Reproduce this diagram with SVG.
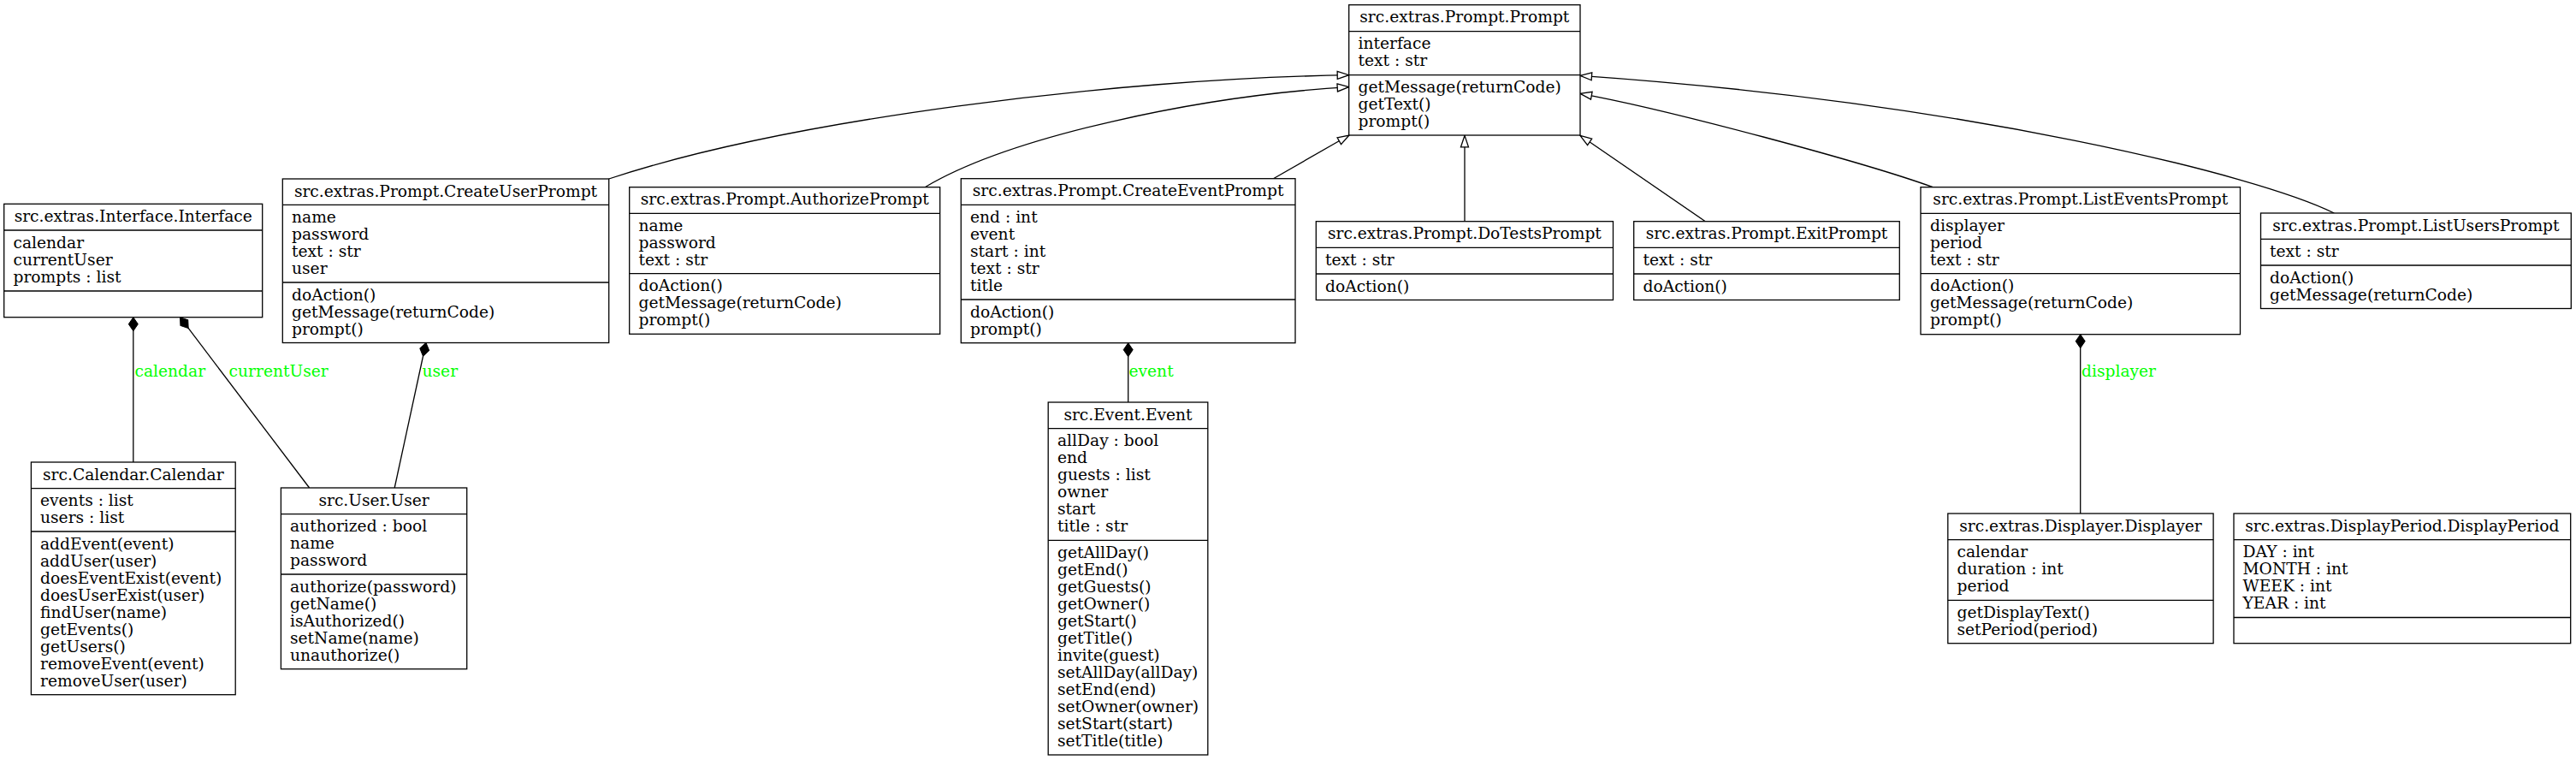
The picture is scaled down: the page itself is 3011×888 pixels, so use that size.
<svg xmlns="http://www.w3.org/2000/svg" width="3011" height="888" viewBox="0 0 3011 888">
<style>
text{font-family:"DejaVu Serif","Liberation Serif",serif;font-size:18.67px;fill:#000}
.h{text-anchor:middle}
.lbl{fill:#00ff00}
rect{fill:#fff;stroke:#000;stroke-width:1.3}
line.d{stroke:#000;stroke-width:1.3}
.e{fill:none;stroke:#000;stroke-width:1.3}
</style>
<defs>
<marker id="hollow" viewBox="0 0 14 10" refX="14" refY="5" markerWidth="14" markerHeight="10" markerUnits="userSpaceOnUse" orient="auto" overflow="visible"><path d="M0.5,0.5 L14,5 L0.5,9.5 z" fill="#fff" stroke="#000" stroke-width="1.3"/></marker>
<marker id="diamond" viewBox="0 0 16 12" refX="0" refY="6" markerWidth="16" markerHeight="12" markerUnits="userSpaceOnUse" orient="auto" overflow="visible"><path d="M0,6 L8,0.5 L16,6 L8,11.5 z" fill="#000" stroke="#000" stroke-width="1"/></marker>
</defs>
<rect x="0" y="0" width="3011" height="888" style="stroke:none;fill:#fff"/>

<g id="connectors">
<path class="e" d="M711.7,209 C920,140 1300,92 1576.7,87.7" marker-end="url(#hollow)"/>
<path class="e" d="M1081.6,218.5 C1180,160 1400,112 1576.7,101.7" marker-end="url(#hollow)"/>
<path class="e" d="M1488.4,208.7 L1577,158" marker-end="url(#hollow)"/>
<path class="e" d="M1712,258.7 L1712,158.3" marker-end="url(#hollow)"/>
<path class="e" d="M1993.3,258.7 L1847,158.3" marker-end="url(#hollow)"/>
<path class="e" d="M2259.3,218.7 C2180,190 1950,128 1847,109.3" marker-end="url(#hollow)"/>
<path class="e" d="M2728.3,249 C2640,205 2300,120 1847,88.3" marker-end="url(#hollow)"/>
<path class="e" d="M155.8,370.7 L155.8,540" marker-start="url(#diamond)"/>
<path class="e" d="M210.5,370.7 L361.6,570" marker-start="url(#diamond)"/>
<path class="e" d="M497.9,400.5 L461.2,570" marker-start="url(#diamond)"/>
<path class="e" d="M1318.7,400.7 L1318.7,470" marker-start="url(#diamond)"/>
<path class="e" d="M2431.7,390.7 L2431.7,600" marker-start="url(#diamond)"/>
<text class="lbl" x="157.5" y="439.5">calendar</text>
<text class="lbl" x="267.6" y="439.5">currentUser</text>
<text class="lbl" x="493.5" y="439.5">user</text>
<text class="lbl" x="1319.5" y="439.5">event</text>
<text class="lbl" x="2433" y="439.5">displayer</text>
</g>

<g id="Prompt">
<rect x="1576.7" y="5.7" width="270.3" height="152.3"/>
<line class="d" x1="1576.7" y1="36.7" x2="1847" y2="36.7"/>
<line class="d" x1="1576.7" y1="87.7" x2="1847" y2="87.7"/>
<text class="h" x="1711.85" y="26.3">src.extras.Prompt.Prompt</text>
<text x="1587.5" y="57.4">interface</text>
<text x="1587.5" y="77.4">text : str</text>
<text x="1587.5" y="108.4">getMessage(returnCode)</text>
<text x="1587.5" y="128.4">getText()</text>
<text x="1587.5" y="148.4">prompt()</text>
</g>

<g id="Interface">
<rect x="4.7" y="238.3" width="302" height="132.4"/>
<line class="d" x1="4.7" y1="269" x2="306.7" y2="269"/>
<line class="d" x1="4.7" y1="340" x2="306.7" y2="340"/>
<text class="h" x="155.7" y="258.9">src.extras.Interface.Interface</text>
<text x="15.5" y="289.7">calendar</text>
<text x="15.5" y="309.7">currentUser</text>
<text x="15.5" y="329.7">prompts : list</text>
</g>

<g id="CreateUserPrompt">
<rect x="330.3" y="209" width="381.4" height="191.5"/>
<line class="d" x1="330.3" y1="239.3" x2="711.7" y2="239.3"/>
<line class="d" x1="330.3" y1="330" x2="711.7" y2="330"/>
<text class="h" x="521" y="229.6">src.extras.Prompt.CreateUserPrompt</text>
<text x="341" y="260">name</text>
<text x="341" y="280">password</text>
<text x="341" y="300">text : str</text>
<text x="341" y="320">user</text>
<text x="341" y="350.7">doAction()</text>
<text x="341" y="370.7">getMessage(returnCode)</text>
<text x="341" y="390.7">prompt()</text>
</g>

<g id="AuthorizePrompt">
<rect x="735.7" y="218.7" width="363" height="171.6"/>
<line class="d" x1="735.7" y1="249.3" x2="1098.7" y2="249.3"/>
<line class="d" x1="735.7" y1="319.7" x2="1098.7" y2="319.7"/>
<text class="h" x="917.2" y="239.3">src.extras.Prompt.AuthorizePrompt</text>
<text x="746.5" y="270">name</text>
<text x="746.5" y="290">password</text>
<text x="746.5" y="310">text : str</text>
<text x="746.5" y="340.4">doAction()</text>
<text x="746.5" y="360.4">getMessage(returnCode)</text>
<text x="746.5" y="380.4">prompt()</text>
</g>

<g id="CreateEventPrompt">
<rect x="1123.3" y="208.7" width="390.7" height="192"/>
<line class="d" x1="1123.3" y1="239.3" x2="1514" y2="239.3"/>
<line class="d" x1="1123.3" y1="350" x2="1514" y2="350"/>
<text class="h" x="1318.65" y="229.3">src.extras.Prompt.CreateEventPrompt</text>
<text x="1134" y="260">end : int</text>
<text x="1134" y="280">event</text>
<text x="1134" y="300">start : int</text>
<text x="1134" y="320">text : str</text>
<text x="1134" y="340">title</text>
<text x="1134" y="370.7">doAction()</text>
<text x="1134" y="390.7">prompt()</text>
</g>

<g id="DoTestsPrompt">
<rect x="1538.3" y="258.7" width="347.2" height="91.8"/>
<line class="d" x1="1538.3" y1="289.3" x2="1885.5" y2="289.3"/>
<line class="d" x1="1538.3" y1="320" x2="1885.5" y2="320"/>
<text class="h" x="1711.9" y="279.3">src.extras.Prompt.DoTestsPrompt</text>
<text x="1549" y="310">text : str</text>
<text x="1549" y="340.7">doAction()</text>
</g>

<g id="ExitPrompt">
<rect x="1909.7" y="258.7" width="310.6" height="91.8"/>
<line class="d" x1="1909.7" y1="289.3" x2="2220.3" y2="289.3"/>
<line class="d" x1="1909.7" y1="320" x2="2220.3" y2="320"/>
<text class="h" x="2065" y="279.3">src.extras.Prompt.ExitPrompt</text>
<text x="1920.5" y="310">text : str</text>
<text x="1920.5" y="340.7">doAction()</text>
</g>

<g id="ListEventsPrompt">
<rect x="2245" y="218.7" width="373.5" height="172"/>
<line class="d" x1="2245" y1="249.3" x2="2618.5" y2="249.3"/>
<line class="d" x1="2245" y1="319.7" x2="2618.5" y2="319.7"/>
<text class="h" x="2431.75" y="239.3">src.extras.Prompt.ListEventsPrompt</text>
<text x="2256" y="270">displayer</text>
<text x="2256" y="290">period</text>
<text x="2256" y="310">text : str</text>
<text x="2256" y="340.4">doAction()</text>
<text x="2256" y="360.4">getMessage(returnCode)</text>
<text x="2256" y="380.4">prompt()</text>
</g>

<g id="ListUsersPrompt">
<rect x="2642.5" y="249" width="362.8" height="111.5"/>
<line class="d" x1="2642.5" y1="279.3" x2="3005.3" y2="279.3"/>
<line class="d" x1="2642.5" y1="310" x2="3005.3" y2="310"/>
<text class="h" x="2823.9" y="269.6">src.extras.Prompt.ListUsersPrompt</text>
<text x="2653" y="300">text : str</text>
<text x="2653" y="330.7">doAction()</text>
<text x="2653" y="350.7">getMessage(returnCode)</text>
</g>

<g id="Calendar">
<rect x="36.4" y="540" width="238.8" height="271.7"/>
<line class="d" x1="36.4" y1="570.7" x2="275.2" y2="570.7"/>
<line class="d" x1="36.4" y1="621" x2="275.2" y2="621"/>
<text class="h" x="155.8" y="560.6">src.Calendar.Calendar</text>
<text x="47" y="591.4">events : list</text>
<text x="47" y="611.4">users : list</text>
<text x="47" y="641.7">addEvent(event)</text>
<text x="47" y="661.7">addUser(user)</text>
<text x="47" y="681.7">doesEventExist(event)</text>
<text x="47" y="701.7">doesUserExist(user)</text>
<text x="47" y="721.7">findUser(name)</text>
<text x="47" y="741.7">getEvents()</text>
<text x="47" y="761.7">getUsers()</text>
<text x="47" y="781.7">removeEvent(event)</text>
<text x="47" y="801.7">removeUser(user)</text>
</g>

<g id="User">
<rect x="328.4" y="570" width="217.3" height="211.7"/>
<line class="d" x1="328.4" y1="600.7" x2="545.7" y2="600.7"/>
<line class="d" x1="328.4" y1="671" x2="545.7" y2="671"/>
<text class="h" x="437.05" y="590.6">src.User.User</text>
<text x="339" y="621.4">authorized : bool</text>
<text x="339" y="641.4">name</text>
<text x="339" y="661.4">password</text>
<text x="339" y="691.7">authorize(password)</text>
<text x="339" y="711.7">getName()</text>
<text x="339" y="731.7">isAuthorized()</text>
<text x="339" y="751.7">setName(name)</text>
<text x="339" y="771.7">unauthorize()</text>
</g>

<g id="Event">
<rect x="1225.2" y="470" width="186.6" height="412"/>
<line class="d" x1="1225.2" y1="500.7" x2="1411.8" y2="500.7"/>
<line class="d" x1="1225.2" y1="631.3" x2="1411.8" y2="631.3"/>
<text class="h" x="1318.5" y="490.6">src.Event.Event</text>
<text x="1236" y="521.4">allDay : bool</text>
<text x="1236" y="541.4">end</text>
<text x="1236" y="561.4">guests : list</text>
<text x="1236" y="581.4">owner</text>
<text x="1236" y="601.4">start</text>
<text x="1236" y="621.4">title : str</text>
<text x="1236" y="652">getAllDay()</text>
<text x="1236" y="672">getEnd()</text>
<text x="1236" y="692">getGuests()</text>
<text x="1236" y="712">getOwner()</text>
<text x="1236" y="732">getStart()</text>
<text x="1236" y="752">getTitle()</text>
<text x="1236" y="772">invite(guest)</text>
<text x="1236" y="792">setAllDay(allDay)</text>
<text x="1236" y="812">setEnd(end)</text>
<text x="1236" y="832">setOwner(owner)</text>
<text x="1236" y="852">setStart(start)</text>
<text x="1236" y="872">setTitle(title)</text>
</g>

<g id="Displayer">
<rect x="2276.8" y="600" width="310.3" height="151.7"/>
<line class="d" x1="2276.8" y1="630.7" x2="2587.1" y2="630.7"/>
<line class="d" x1="2276.8" y1="701.3" x2="2587.1" y2="701.3"/>
<text class="h" x="2431.95" y="620.6">src.extras.Displayer.Displayer</text>
<text x="2287.5" y="651.4">calendar</text>
<text x="2287.5" y="671.4">duration : int</text>
<text x="2287.5" y="691.4">period</text>
<text x="2287.5" y="722">getDisplayText()</text>
<text x="2287.5" y="742">setPeriod(period)</text>
</g>

<g id="DisplayPeriod">
<rect x="2611" y="600" width="393.7" height="151.7"/>
<line class="d" x1="2611" y1="630.7" x2="3004.7" y2="630.7"/>
<line class="d" x1="2611" y1="721.5" x2="3004.7" y2="721.5"/>
<text class="h" x="2807.85" y="620.6">src.extras.DisplayPeriod.DisplayPeriod</text>
<text x="2621.5" y="651.4">DAY : int</text>
<text x="2621.5" y="671.4">MONTH : int</text>
<text x="2621.5" y="691.4">WEEK : int</text>
<text x="2621.5" y="711.4">YEAR : int</text>
</g>
</svg>
